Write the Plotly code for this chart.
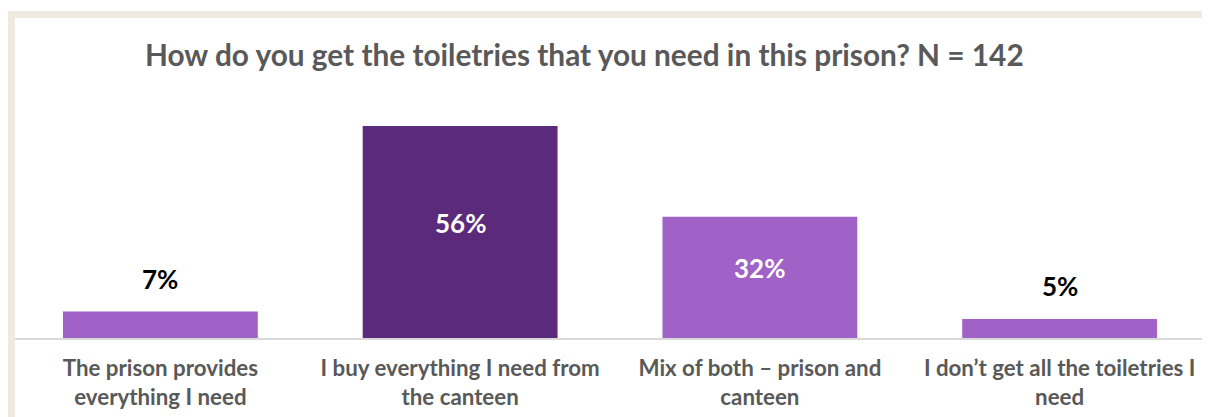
import plotly.graph_objects as go

categories = [
    "The prison provides<br>everything I need",
    "I buy everything I need from<br>the canteen",
    "Mix of both \u2013 prison and<br>canteen",
    "I don\u2019t get all the toiletries I<br>need",
]
values = [7, 56, 32, 5]
labels = ["7%", "56%", "32%", "5%"]
bar_colors = ["#A062C7", "#5C2A7A", "#A062C7", "#A062C7"]
title_text = "How do you get the toiletries that you need in this prison? N = 142"

FONT = "Lato"
OFF = 8  # page body margin
W, H = 1210 - OFF, 417 - OFF
L, R, T, B = 15 - OFF, 0, 18 - OFF, 79
pw, ph = W - L - R, H - T - B


def px_x(p):
    return (p - OFF - L) / pw


def px_y(p):
    return (H - B - (p - OFF)) / ph


fig = go.Figure()
fig.add_trace(go.Bar(
    x=list(range(len(categories))),
    y=values,
    marker=dict(color=bar_colors, line=dict(width=0)),
    width=0.65,
    hoverinfo="skip",
))

annotations = []
for i, (v, lab) in enumerate(zip(values, labels)):
    if v > 20:
        annotations.append(dict(x=i, y=v / 2, text=f"<b>{lab}</b>", showarrow=False,
                                font=dict(family=FONT, size=26, color="white"),
                                yanchor="middle", yshift=9))
    else:
        annotations.append(dict(x=i, y=v, text=f"<b>{lab}</b>", showarrow=False,
                                font=dict(family=FONT, size=26, color="black"),
                                yanchor="bottom", yshift=15))

annotations.append(dict(xref="paper", yref="paper", x=px_x(584), y=px_y(55),
                        text=f"<b>{title_text}</b>", showarrow=False,
                        xanchor="center", yanchor="middle",
                        font=dict(family=FONT, size=29.8, color="#595959")))

shapes = [
    dict(type="rect", xref="paper", yref="paper", layer="below",
         x0=px_x(7), x1=px_x(1215), y0=px_y(11), y1=px_y(430),
         fillcolor="#EEEAE0", line=dict(width=0)),
    dict(type="rect", xref="paper", yref="paper", layer="below",
         x0=px_x(15), x1=px_x(1209), y0=px_y(18), y1=px_y(430),
         fillcolor="white", line=dict(width=0)),
    dict(type="line", xref="paper", yref="paper", layer="below",
         x0=px_x(1209.5), x1=px_x(1209.5), y0=px_y(18), y1=px_y(430),
         line=dict(color="#E2E2E2", width=1)),
]

fig.update_layout(
    width=W, height=H,
    margin=dict(l=L, r=R, t=T, b=B, pad=0),
    paper_bgcolor="white", plot_bgcolor="rgba(0,0,0,0)",
    showlegend=False,
    annotations=annotations,
    shapes=shapes,
    xaxis=dict(
        tickmode="array", tickvals=list(range(len(categories))),
        ticktext=[f"<b>{c}</b>" for c in categories],
        range=[-(160.5 - 15) / 300, 3 + (1210 - 1059.5) / 300],
        showline=True, linecolor="#D9D9D9", linewidth=2,
        showgrid=False, zeroline=False, ticks="",
        tickfont=dict(family=FONT, size=22.3, color="#595959"),
        ticklabelstandoff=9,
        tickangle=0,
    ),
    yaxis=dict(range=[0, ph / 3.786], visible=False, showgrid=False, zeroline=False),
)

fig.write_html("out.html")
